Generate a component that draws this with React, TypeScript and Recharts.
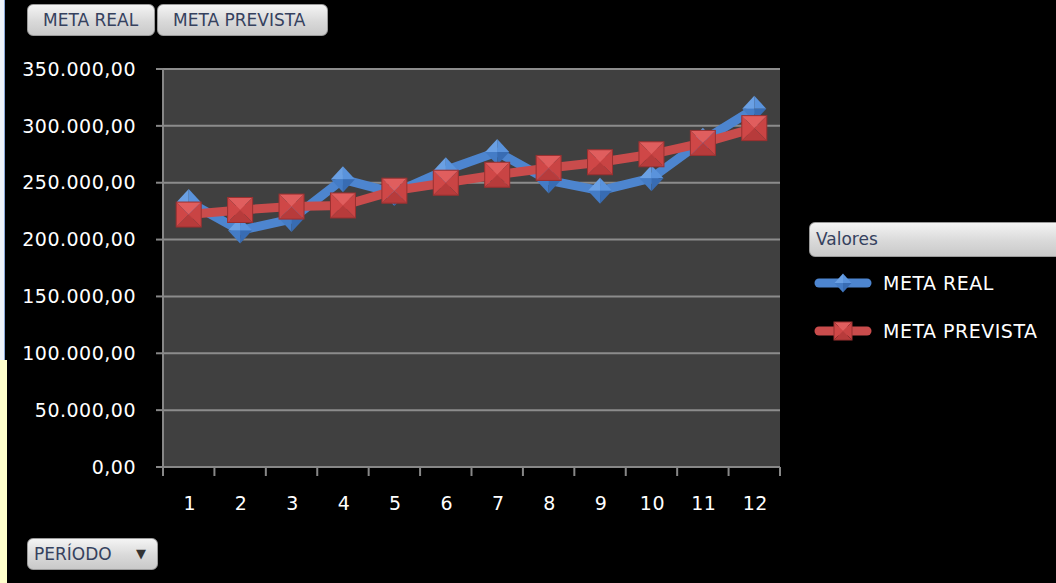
import { LineChart, Line, XAxis, YAxis, CartesianGrid } from 'recharts';
import { FC } from 'react';

const periodos = ['1', '2', '3', '4', '5', '6', '7', '8', '9', '10', '11', '12'];
const metaReal = [233000, 208000, 218000, 253000, 241000, 261000, 277000, 252000, 243000, 254000, 287000, 315000];
const metaPrevista = [222000, 226000, 229000, 230000, 243000, 250000, 257000, 263000, 268000, 275000, 285000, 298000];
const yTicks = [0, 50000, 100000, 150000, 200000, 250000, 300000, 350000];

const data = periodos.map((p, i) => ({ periodo: p, real: metaReal[i], prevista: metaPrevista[i] }));

const W = 1056;
const H = 583;
const PLOT_LEFT = 163;
const PLOT_RIGHT = 780;
const PLOT_TOP = 69;
const PLOT_BOTTOM = 467;
const BAND = (PLOT_RIGHT - PLOT_LEFT) / periodos.length;
const FONT = '"DejaVu Sans", Tahoma, sans-serif';
const AXIS_GRAY = '#878787';

const BLUE = '#4d85cf';
const RED = '#c94c4c';

const fmt = (v: number) => Math.round(v).toString().replace(/\B(?=(\d{3})+(?!\d))/g, '.') + ',00';

const diamond = (cx: number, cy: number, w: number, h: number, key?: string) => {
  const t = `${cx},${cy - h / 2}`;
  const r = `${cx + w / 2},${cy}`;
  const b = `${cx},${cy + h / 2}`;
  const l = `${cx - w / 2},${cy}`;
  const c = `${cx},${cy}`;
  return (
    <g key={key}>
      <polygon points={`${t} ${l} ${c}`} fill="#6aa0e4" />
      <polygon points={`${t} ${r} ${c}`} fill="#5a93dc" />
      <polygon points={`${l} ${b} ${c}`} fill="#447cc6" />
      <polygon points={`${r} ${b} ${c}`} fill="#386cb3" />
    </g>
  );
};

const square = (cx: number, cy: number, s: number, key?: string) => {
  const h = s / 2;
  const tl = `${cx - h},${cy - h}`;
  const tr = `${cx + h},${cy - h}`;
  const br = `${cx + h},${cy + h}`;
  const bl = `${cx - h},${cy + h}`;
  const c = `${cx},${cy}`;
  return (
    <g key={key}>
      <polygon points={`${tl} ${tr} ${c}`} fill="#e05e5e" />
      <polygon points={`${tl} ${bl} ${c}`} fill="#cf4747" />
      <polygon points={`${tr} ${br} ${c}`} fill="#c94444" />
      <polygon points={`${bl} ${br} ${c}`} fill="#b73b3b" />
      <rect x={cx - h} y={cy - h} width={s} height={s} fill="none" stroke="#9a3030" strokeWidth={1} />
    </g>
  );
};

const DiamondDot = (props: any) => {
  const { cx, cy, index } = props;
  if (cx == null || cy == null) return null;
  return diamond(cx, cy, 24, 26, `d${index}`);
};

const SquareDot = (props: any) => {
  const { cx, cy, index } = props;
  if (cx == null || cy == null) return null;
  return square(cx, cy, 25, `s${index}`);
};

const XTick = (props: any) => {
  const { x, payload, index } = props;
  const left = x - BAND / 2;
  return (
    <g>
      <line x1={left} y1={PLOT_BOTTOM} x2={left} y2={PLOT_BOTTOM + 9} stroke={AXIS_GRAY} strokeWidth={2} />
      {index === periodos.length - 1 && (
        <line x1={x + BAND / 2} y1={PLOT_BOTTOM} x2={x + BAND / 2} y2={PLOT_BOTTOM + 9} stroke={AXIS_GRAY} strokeWidth={2} />
      )}
      <text x={x + 1} y={PLOT_BOTTOM + 43} textAnchor="middle" fill="#ffffff" fontSize={19} fontFamily={FONT} letterSpacing={0.5}>
        {payload.value}
      </text>
    </g>
  );
};

const buttonStyle = {
  position: 'absolute' as const,
  height: 32,
  borderRadius: 6,
  background: 'linear-gradient(#f4f4f4, #d9d9d9 55%, #c9c9c9)',
  border: '1px solid #9a9a9a',
  boxSizing: 'border-box' as const,
  color: '#35415e',
  fontFamily: FONT,
  fontSize: 17,
  lineHeight: '30px',
  whiteSpace: 'nowrap' as const,
};

const series = [
  { name: 'META REAL', color: BLUE, marker: 'diamond' },
  { name: 'META PREVISTA', color: RED, marker: 'square' },
];

const App: FC = () => {
  return (
    <div style={{ position: 'absolute', left: 0, top: 0, width: W, height: H, background: '#000', overflow: 'hidden' }}>
      <div style={{ position: 'absolute', left: 0, top: 0, width: 4, height: 360, background: '#eef3fb', borderRight: '1px solid #8aa8d8' }} />
      <div style={{ position: 'absolute', left: 0, top: 360, width: 7, height: H - 360, background: '#ffffcc' }} />

      <div style={{ ...buttonStyle, left: 27, top: 4, width: 128, paddingLeft: 15 }}>META REAL</div>
      <div style={{ ...buttonStyle, left: 157, top: 4, width: 171, paddingLeft: 15 }}>META PREVISTA</div>
      <div style={{ ...buttonStyle, left: 27, top: 538, width: 131, paddingLeft: 6 }}>
        PERÍODO
        <span style={{ position: 'absolute', left: 108, top: 0, fontSize: 13, color: '#333' }}>▼</span>
      </div>

      <LineChart
        width={W}
        height={H}
        data={data}
        margin={{ top: PLOT_TOP, right: W - PLOT_RIGHT, bottom: H - PLOT_BOTTOM - 50, left: 0 }}
        style={{ position: 'absolute', left: 0, top: 0 }}
      >
        <CartesianGrid vertical={false} stroke="#8c8c8c" strokeWidth={2} fill="#404040" fillOpacity={1} />
        <XAxis
          dataKey="periodo"
          scale="band"
          height={50}
          axisLine={{ stroke: AXIS_GRAY, strokeWidth: 2 }}
          tickLine={false}
          interval={0}
          tick={<XTick />}
        />
        <YAxis
          width={PLOT_LEFT}
          domain={[0, 350000]}
          ticks={yTicks}
          interval={0}
          tickFormatter={fmt}
          tickSize={7}
          tickMargin={20}
          axisLine={{ stroke: AXIS_GRAY, strokeWidth: 2 }}
          tickLine={{ stroke: AXIS_GRAY, strokeWidth: 2 }}
          tick={{ fill: '#ffffff', fontSize: 19, fontFamily: FONT, letterSpacing: 0.5 }}
        />
        <Line
          type="linear"
          dataKey="real"
          name="META REAL"
          stroke={BLUE}
          strokeWidth={9}
          strokeLinejoin="round"
          dot={<DiamondDot />}
          activeDot={false}
          isAnimationActive={false}
        />
        <Line
          type="linear"
          dataKey="prevista"
          name="META PREVISTA"
          stroke={RED}
          strokeWidth={9}
          strokeLinejoin="round"
          dot={<SquareDot />}
          activeDot={false}
          isAnimationActive={false}
        />
      </LineChart>

      <div style={{ ...buttonStyle, left: 809, top: 222, width: 260, height: 35, paddingLeft: 6, lineHeight: '33px' }}>Valores</div>
      {series.map((s, i) => (
        <div key={s.name} style={{ position: 'absolute', left: 813, top: 270 + i * 48, height: 26, display: 'flex', alignItems: 'center' }}>
          <svg width={60} height={26}>
            <line x1={6} y1={13} x2={54} y2={13} stroke={s.color} strokeWidth={9} strokeLinecap="round" />
            {s.marker === 'diamond' ? diamond(30, 13, 17, 19) : square(30, 13, 18)}
          </svg>
          <span style={{ marginLeft: 10, color: '#fff', fontFamily: FONT, fontSize: 19, letterSpacing: 0.5 }}>{s.name}</span>
        </div>
      ))}
    </div>
  );
};

export default App;
